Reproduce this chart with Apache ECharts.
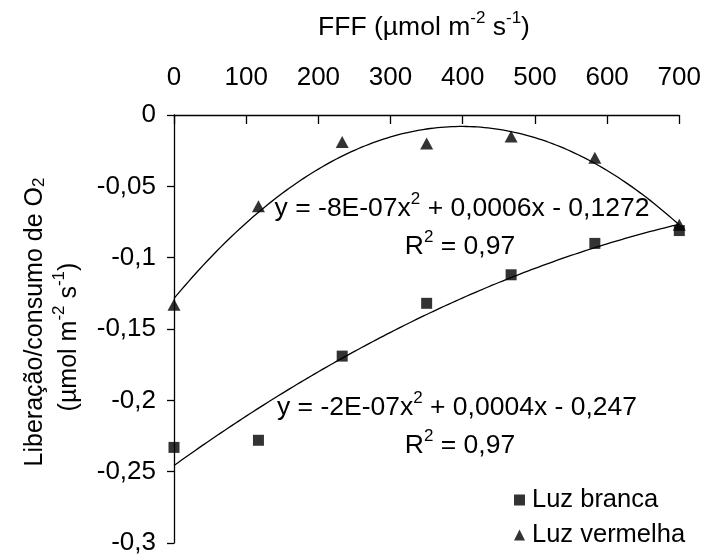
<!DOCTYPE html>
<html>
<head>
<meta charset="utf-8">
<script src="https://cdn.jsdelivr.net/npm/echarts@6/dist/echarts.min.js"></script>
<style>
  html, body { margin: 0; padding: 0; background: #fff; }
  #chart { width: 704px; height: 558px; }
</style>
</head>
<body>
<div id="chart"></div>
<script>
// Photosynthetic photon flux (FFF) levels
const fff = [0, 117, 233, 350, 467, 583, 700];
// O2 release/consumption under white light
const luzBranca = [-0.233, -0.228, -0.169, -0.132, -0.112, -0.090, -0.081];
// O2 release/consumption under red light
const luzVermelha = [-0.133, -0.064, -0.019, -0.020, -0.015, -0.030, -0.077];

// Trendline equations as reported
const eqVermelha = ['y = -8E-07x', '2', ' + 0,0006x - 0,1272'];
const eqBranca = ['y = -2E-07x', '2', ' + 0,0004x - 0,247'];
const r2Text = ' = 0,97';

const FONT = '"Liberation Sans", Arial, sans-serif';
const FS = 25.5;

// Least-squares 2nd-order polynomial fit (like a spreadsheet trendline)
function quadFit(xs, ys) {
  let n = xs.length, s1 = 0, s2 = 0, s3 = 0, s4 = 0, t0 = 0, t1 = 0, t2 = 0;
  for (let i = 0; i < n; i++) {
    const x = xs[i], y = ys[i];
    s1 += x; s2 += x * x; s3 += x * x * x; s4 += x * x * x * x;
    t0 += y; t1 += x * y; t2 += x * x * y;
  }
  const M = [[n, s1, s2], [s1, s2, s3], [s2, s3, s4]];
  const V = [t0, t1, t2];
  const det = m => m[0][0] * (m[1][1] * m[2][2] - m[1][2] * m[2][1])
                 - m[0][1] * (m[1][0] * m[2][2] - m[1][2] * m[2][0])
                 + m[0][2] * (m[1][0] * m[2][1] - m[1][1] * m[2][0]);
  const D = det(M);
  const coef = [0, 1, 2].map(k => {
    const mk = M.map((row, r) => row.map((v, c) => (c === k ? V[r] : v)));
    return det(mk) / D;
  });
  return coef; // c0 + c1 x + c2 x^2
}

function curve(xs, ys) {
  const [c0, c1, c2] = quadFit(xs, ys);
  const pts = [];
  for (let x = 0; x <= 700; x += 5) pts.push([x, c0 + c1 * x + c2 * x * x]);
  return pts;
}

const pairs = (xs, ys) => xs.map((x, i) => [x, ys[i]]);

function makeRich(fs) {
  return {
    n: { fontSize: fs, fontFamily: FONT, color: '#000', lineHeight: 32, verticalAlign: 'bottom' },
    sup: { fontSize: Math.round(fs * 0.66), fontFamily: FONT, color: '#000', lineHeight: 32, verticalAlign: 'top', padding: [1, 0, 0, 0] },
    sub: { fontSize: Math.round(fs * 0.66), fontFamily: FONT, color: '#000', lineHeight: 27, verticalAlign: 'bottom' }
  };
}

function textEl(x, y, text, fs, rotation) {
  return {
    type: 'text',
    x: x, y: y,
    rotation: rotation || 0,
    style: {
      text: text,
      align: 'center',
      verticalAlign: 'middle',
      rich: makeRich(fs),
      fill: '#000'
    },
    z: 10
  };
}

const chart = echarts.init(document.getElementById('chart'), null, { renderer: 'canvas' });

chart.setOption({
  animation: false,
  backgroundColor: '#fff',
  grid: { left: 174, right: 22, top: 115, bottom: 15 },
  xAxis: {
    type: 'value',
    position: 'top',
    min: 0, max: 700, interval: 100,
    axisLine: { onZero: false, lineStyle: { color: '#000', width: 1.3 } },
    axisTick: { inside: true, length: 9, lineStyle: { color: '#000', width: 1.3 } },
    axisLabel: { color: '#000', fontSize: 26, fontFamily: FONT, margin: 24 },
    splitLine: { show: false }
  },
  yAxis: {
    type: 'value',
    min: -0.3, max: 0, interval: 0.05,
    axisLine: { show: true, onZero: false, lineStyle: { color: '#000', width: 1.3 } },
    axisTick: { show: true, length: 7, lineStyle: { color: '#000', width: 1.3 } },
    axisLabel: {
      color: '#000', fontSize: 26, fontFamily: FONT, margin: 18,
      formatter: v => parseFloat(v.toFixed(2)).toString().replace('.', ',')
    },
    splitLine: { show: false }
  },
  legend: {
    orient: 'vertical',
    left: 509, top: 482,
    itemWidth: 11, itemHeight: 11, itemGap: 9,
    textStyle: { color: '#000', fontSize: 25.5, fontFamily: FONT, padding: [0, 0, 0, 2] },
    data: [
      { name: 'Luz branca', icon: 'rect' },
      { name: 'Luz vermelha', icon: 'triangle' }
    ]
  },
  graphic: [
    // x-axis title
    textEl(424, 25, '{n|FFF (µmol m}{sup|-2}{n| s}{sup|-1}{n|)}', 26.5),
    // y-axis title, two rotated lines
    textEl(32, 322, '{n|Liberação/consumo de O}{sub|2}', 25, Math.PI / 2),
    textEl(66, 337, '{n|(µmol m}{sup|-2}{n| s}{sup|-1}{n|)}', 25, Math.PI / 2),
    // trendline equations
    textEl(462, 206, eqText(eqVermelha), 26.5),
    textEl(460, 244, '{n|R}{sup|2}{n|' + r2Text + '}', 26.5),
    textEl(457, 405, eqText(eqBranca), 26.5),
    textEl(460, 443, '{n|R}{sup|2}{n|' + r2Text + '}', 26.5)
  ],
  series: [
    {
      name: 'Luz branca', type: 'scatter', symbol: 'rect', symbolSize: 11,
      itemStyle: { color: '#000' }, clip: false, z: 5,
      data: pairs(fff, luzBranca)
    },
    {
      name: 'Luz vermelha', type: 'scatter', symbol: 'triangle', symbolSize: [13, 12],
      itemStyle: { color: '#000' }, clip: false, z: 5,
      data: pairs(fff, luzVermelha)
    },
    {
      name: 'Tendência branca', type: 'line', showSymbol: false, symbol: 'none', silent: true,
      lineStyle: { color: '#000', width: 1.3 }, z: 3,
      data: curve(fff, luzBranca)
    },
    {
      name: 'Tendência vermelha', type: 'line', showSymbol: false, symbol: 'none', silent: true,
      lineStyle: { color: '#000', width: 1.3 }, z: 3,
      data: curve(fff, luzVermelha)
    }
  ]
});

function eqText(parts) {
  return '{n|' + parts[0] + '}{sup|' + parts[1] + '}{n|' + parts[2] + '}';
}
</script>
</body>
</html>
